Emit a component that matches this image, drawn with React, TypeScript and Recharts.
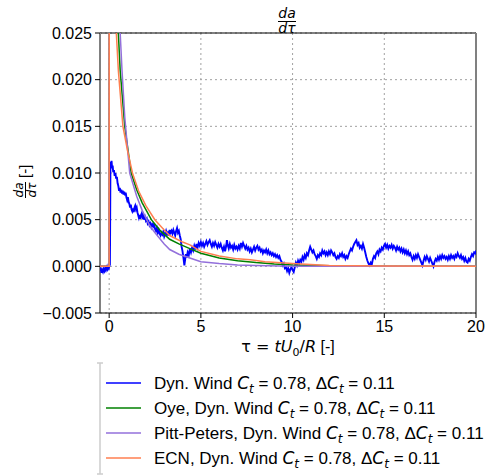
import React from 'react';
import { LineChart, Line, XAxis, YAxis, CartesianGrid, ReferenceLine } from 'recharts';

const xTicks = [0, 5, 10, 15, 20];
const yTicks = [-0.005, 0, 0.005, 0.01, 0.015, 0.02, 0.025];

// measured dynamic-wind signal [tau, da/dtau]
const dynWind: [number, number][] = [
  [-0.5, -0.0005], [-0.46, -0.0003], [-0.42, -0.0007], [-0.38, -0.0004], [-0.34, -0.0006], [-0.3, -0.0003],
  [-0.26, -0.0005], [-0.22, -0.0002], [-0.18, -0.0004], [-0.14, -0.0001], [-0.1, -0.0003], [-0.06, 0.0],
  [-0.02, -0.0002], [0.02, 0.0001], [0.04, 0.0002], [0.05, 0.0032], [0.07, 0.0112], [0.1, 0.0107],
  [0.13, 0.0113], [0.16, 0.0105], [0.19, 0.0108], [0.22, 0.0101], [0.26, 0.0103], [0.3, 0.0097],
  [0.34, 0.01], [0.38, 0.0094], [0.42, 0.0096], [0.46, 0.0089], [0.5, 0.0086], [0.54, 0.0081],
  [0.58, 0.0084], [0.62, 0.0079], [0.66, 0.0082], [0.7, 0.0078], [0.74, 0.0081], [0.78, 0.0077],
  [0.82, 0.008], [0.86, 0.0076], [0.9, 0.0079], [0.94, 0.0074], [0.98, 0.0071], [1.02, 0.0074],
  [1.06, 0.0069], [1.1, 0.0067], [1.14, 0.0063], [1.18, 0.0066], [1.22, 0.0061], [1.26, 0.0059],
  [1.3, 0.0062], [1.34, 0.0058], [1.38, 0.0063], [1.42, 0.0065], [1.46, 0.0061], [1.5, 0.0063],
  [1.54, 0.0058], [1.58, 0.0055], [1.62, 0.0052], [1.66, 0.0055], [1.7, 0.0051], [1.74, 0.0055],
  [1.78, 0.0057], [1.82, 0.0053], [1.86, 0.0055], [1.9, 0.005], [1.95, 0.0053], [2.0, 0.0049],
  [2.05, 0.0051], [2.1, 0.0046], [2.15, 0.0048], [2.2, 0.0044], [2.25, 0.0046], [2.3, 0.0042],
  [2.35, 0.0045], [2.4, 0.0043], [2.45, 0.0046], [2.5, 0.004], [2.55, 0.0038], [2.6, 0.0041],
  [2.65, 0.0036], [2.7, 0.0039], [2.75, 0.0035], [2.8, 0.0033], [2.85, 0.0036], [2.9, 0.0034],
  [2.95, 0.0037], [3.0, 0.0032], [3.05, 0.0035], [3.1, 0.0038], [3.15, 0.0034], [3.2, 0.0036],
  [3.25, 0.0033], [3.3, 0.0039], [3.35, 0.0036], [3.4, 0.0038], [3.45, 0.0035], [3.5, 0.0039],
  [3.55, 0.0036], [3.6, 0.0033], [3.65, 0.0038], [3.7, 0.0041], [3.75, 0.0036], [3.8, 0.0038],
  [3.85, 0.0033], [3.9, 0.0029], [3.95, 0.0021], [4.0, 0.0016], [4.05, 0.0009], [4.1, 0.0001],
  [4.14, 0.0007], [4.18, 0.0013], [4.22, 0.0009], [4.28, 0.0015], [4.34, 0.0012], [4.4, 0.0019],
  [4.46, 0.0015], [4.52, 0.002], [4.58, 0.0017], [4.64, 0.0022], [4.7, 0.0018], [4.76, 0.0024],
  [4.82, 0.002], [4.88, 0.0025], [4.94, 0.0022], [5.0, 0.0026], [5.06, 0.0022], [5.12, 0.0025],
  [5.18, 0.0021], [5.24, 0.0024], [5.3, 0.0027], [5.36, 0.0023], [5.42, 0.0026], [5.48, 0.0028],
  [5.54, 0.0024], [5.6, 0.0021], [5.66, 0.0025], [5.72, 0.0022], [5.78, 0.0026], [5.84, 0.0023],
  [5.9, 0.002], [5.96, 0.0024], [6.02, 0.0021], [6.08, 0.0024], [6.14, 0.002], [6.2, 0.0017],
  [6.26, 0.0021], [6.32, 0.0016], [6.38, 0.0022], [6.42, 0.0028], [6.46, 0.0023], [6.52, 0.0019],
  [6.58, 0.0024], [6.64, 0.002], [6.7, 0.0022], [6.76, 0.0018], [6.82, 0.0023], [6.88, 0.0019],
  [6.94, 0.0021], [7.0, 0.0018], [7.06, 0.0022], [7.12, 0.0019], [7.18, 0.0025], [7.24, 0.0021],
  [7.3, 0.0025], [7.36, 0.0022], [7.42, 0.0019], [7.48, 0.0022], [7.54, 0.0018], [7.6, 0.002],
  [7.66, 0.0016], [7.72, 0.0019], [7.78, 0.0015], [7.84, 0.0018], [7.9, 0.0021], [7.96, 0.0017],
  [8.02, 0.002], [8.08, 0.0022], [8.14, 0.0018], [8.2, 0.002], [8.26, 0.0016], [8.32, 0.0018],
  [8.38, 0.0014], [8.44, 0.0017], [8.5, 0.0015], [8.56, 0.0018], [8.62, 0.0014], [8.68, 0.0017],
  [8.74, 0.0013], [8.8, 0.0015], [8.86, 0.0012], [8.92, 0.0014], [8.98, 0.0011], [9.04, 0.0013],
  [9.1, 0.001], [9.16, 0.0012], [9.22, 0.0009], [9.28, 0.0011], [9.34, 0.0007], [9.4, 0.0005],
  [9.46, 0.0001], [9.52, 0.0003], [9.58, -0.0002], [9.64, -0.0001], [9.7, -0.0005], [9.76, -0.0002],
  [9.82, -0.0007], [9.88, -0.0003], [9.94, -0.0001], [10.0, -0.0004], [10.06, -0.0006], [10.12, -0.0001],
  [10.18, 0.0004], [10.24, 0.0001], [10.3, 0.0006], [10.36, 0.0003], [10.42, 0.0007], [10.48, 0.0005],
  [10.54, 0.001], [10.6, 0.0007], [10.66, 0.0012], [10.72, 0.0009], [10.78, 0.0014], [10.84, 0.0012],
  [10.9, 0.0017], [10.96, 0.0021], [11.02, 0.0018], [11.08, 0.0015], [11.14, 0.0017], [11.2, 0.0013],
  [11.26, 0.0011], [11.32, 0.0008], [11.38, 0.0012], [11.44, 0.001], [11.5, 0.0014], [11.56, 0.0012],
  [11.62, 0.0017], [11.68, 0.0014], [11.74, 0.0016], [11.8, 0.0012], [11.86, 0.0015], [11.92, 0.0012],
  [11.98, 0.0016], [12.04, 0.0013], [12.1, 0.0017], [12.16, 0.0015], [12.22, 0.0012], [12.28, 0.0014],
  [12.34, 0.001], [12.4, 0.0008], [12.46, 0.0011], [12.52, 0.0009], [12.58, 0.0013], [12.64, 0.0011],
  [12.7, 0.0014], [12.76, 0.001], [12.82, 0.0012], [12.88, 0.0008], [12.94, 0.0011], [13.0, 0.0009],
  [13.06, 0.0013], [13.12, 0.0016], [13.18, 0.0019], [13.24, 0.0017], [13.3, 0.0021], [13.36, 0.0024],
  [13.42, 0.0026], [13.48, 0.0028], [13.54, 0.0023], [13.6, 0.0025], [13.66, 0.002], [13.72, 0.0022],
  [13.78, 0.0019], [13.84, 0.0024], [13.9, 0.002], [13.96, 0.0015], [14.02, 0.001], [14.08, 0.0006],
  [14.14, 0.0003], [14.2, 0.0001], [14.26, 0.0004], [14.32, 0.0002], [14.38, 0.0008], [14.44, 0.0011],
  [14.5, 0.0009], [14.56, 0.0014], [14.62, 0.0016], [14.68, 0.0013], [14.74, 0.0018], [14.8, 0.0016],
  [14.86, 0.002], [14.92, 0.0018], [14.98, 0.0022], [15.04, 0.0024], [15.1, 0.002], [15.16, 0.0023],
  [15.22, 0.0019], [15.28, 0.0022], [15.34, 0.002], [15.4, 0.0023], [15.46, 0.0019], [15.52, 0.0022],
  [15.58, 0.002], [15.64, 0.0017], [15.7, 0.0021], [15.76, 0.0018], [15.82, 0.002], [15.88, 0.0016],
  [15.94, 0.0019], [16.0, 0.0015], [16.06, 0.0018], [16.12, 0.0014], [16.18, 0.0017], [16.24, 0.0013],
  [16.3, 0.0016], [16.36, 0.0012], [16.42, 0.0014], [16.48, 0.001], [16.54, 0.0007], [16.6, 0.0011],
  [16.66, 0.0008], [16.72, 0.0012], [16.78, 0.0009], [16.84, 0.0013], [16.9, 0.001], [16.96, 0.0007],
  [17.02, 0.0004], [17.08, 0.0001], [17.14, 0.0006], [17.2, 0.001], [17.26, 0.0007], [17.32, 0.0011],
  [17.38, 0.0008], [17.44, 0.0005], [17.5, 0.0009], [17.56, 0.0006], [17.62, 0.0003], [17.68, 0.0],
  [17.74, 0.0005], [17.8, 0.0008], [17.86, 0.0006], [17.92, 0.001], [17.98, 0.0007], [18.04, 0.0011],
  [18.1, 0.0008], [18.16, 0.0012], [18.22, 0.0009], [18.28, 0.0011], [18.34, 0.0008], [18.4, 0.001],
  [18.46, 0.0007], [18.52, 0.0011], [18.58, 0.0008], [18.64, 0.0012], [18.7, 0.0009], [18.76, 0.0011],
  [18.82, 0.0008], [18.88, 0.0012], [18.94, 0.001], [19.0, 0.0014], [19.06, 0.0011], [19.12, 0.0009],
  [19.18, 0.0012], [19.24, 0.0008], [19.3, 0.001], [19.36, 0.0006], [19.42, 0.0009], [19.48, 0.0005],
  [19.54, 0.0004], [19.6, 0.0008], [19.66, 0.0006], [19.72, 0.001], [19.78, 0.0013], [19.84, 0.0011],
  [19.9, 0.0015], [19.96, 0.0014], [20.0, 0.0017],
];

// engineering models
const oye: [number, number][] = [
  [-0.5, 0], [0, 0], [0.01, 0.08], [0.2, 0.036], [0.5, 0.025], [0.6, 0.021], [0.85, 0.015],
  [1.2, 0.01], [1.5, 0.0082], [1.8, 0.0068], [2.3, 0.005], [2.8, 0.0038], [3.3, 0.0029],
  [3.8, 0.0024], [4.4, 0.0019], [5.0, 0.0014], [6, 0.0009], [7, 0.0006], [8, 0.0004],
  [9, 0.00025], [10, 0.00015], [12, 0.00006], [15, 0.00002], [20, 0],
];
const pittPeters: [number, number][] = [
  [-0.5, 0], [0, 0], [0.01, 0.09], [0.3, 0.036], [0.6, 0.025], [0.7, 0.021], [0.85, 0.016],
  [1.12, 0.01], [1.5, 0.0075], [1.8, 0.006], [2.0, 0.0052], [2.2, 0.0044], [2.5, 0.0036],
  [3.0, 0.0024], [3.3, 0.0018], [3.8, 0.0013], [4.4, 0.0009], [5.0, 0.0005], [6, 0.0003],
  [7, 0.00015], [8, 0.00008], [10, 0.00002], [12, 0], [20, 0],
];
const ecn: [number, number][] = [
  [-0.5, 0], [0, 0], [0.01, 0.07], [0.2, 0.032], [0.39, 0.025], [0.5, 0.021], [0.75, 0.015],
  [1.0, 0.0124], [1.27, 0.01], [1.6, 0.0081], [2.0, 0.0065], [2.49, 0.005], [3.0, 0.0039],
  [3.3, 0.0033], [4.0, 0.0026], [4.4, 0.0023], [5.0, 0.0016], [6, 0.0011], [7, 0.0008],
  [7.7, 0.0007], [8.5, 0.0005], [10, 0.0003], [12, 0.0001], [15, 0.00003], [20, 0],
];

const series = [
  { name: 'Dyn. Wind ', color: '#0000ff', pts: dynWind, w: 1.9 },
  { name: 'Oye, Dyn. Wind ', color: '#008000', pts: oye, w: 1.5 },
  { name: 'Pitt-Peters, Dyn. Wind ', color: '#9370db', pts: pittPeters, w: 1.5 },
  { name: 'ECN, Dyn. Wind ', color: '#ff7f50', pts: ecn, w: 1.5 },
];

const sans = "'Liberation Sans', Arial, sans-serif";
const math = "'DejaVu Sans', sans-serif";

function Ct() {
  return (
    <>
      <tspan fontFamily={math} fontStyle="italic">C</tspan>
      <tspan fontFamily={math} fontStyle="italic" fontSize={12} dy={4}>t</tspan>
    </>
  );
}

export default function App() {
  return (
    <div style={{ position: 'fixed', left: 0, top: 0, width: 487, height: 476, background: '#fff' }}>
      <LineChart width={487} height={476} margin={{ top: 33, right: 11, left: 0, bottom: 133 }}>
        <CartesianGrid strokeDasharray="2 3" stroke="#a0a0a0" />
        <XAxis
          type="number"
          dataKey="t"
          domain={[-0.5, 20]}
          ticks={xTicks}
          interval={0}
          allowDataOverflow
          height={30}
          tickSize={5}
          tickMargin={3}
          axisLine={{ stroke: '#000' }}
          tickLine={{ stroke: '#000' }}
          tick={{ fill: '#000', fontSize: 16, fontFamily: sans }}
        />
        <YAxis
          type="number"
          domain={[-0.005, 0.025]}
          ticks={yTicks}
          interval={0}
          allowDataOverflow
          width={100}
          tickSize={5}
          tickMargin={3}
          axisLine={false}
          tickLine={{ stroke: '#000' }}
          tick={{ fill: '#000', fontSize: 16, fontFamily: sans }}
          tickFormatter={(v: number) => v.toFixed(3).replace('-', '\u2212')}
        />
        <ReferenceLine y={0.025} stroke="#000" strokeWidth={1} />
        <ReferenceLine x={-0.5} stroke="#808080" strokeWidth={2} />
        <ReferenceLine x={20} stroke="#808080" strokeWidth={2} />
        {series.map((s) => (
          <Line
            key={s.name}
            data={s.pts.map(([t, v]) => ({ t, v }))}
            dataKey="v"
            type="linear"
            stroke={s.color}
            strokeWidth={s.w}
            dot={false}
            activeDot={false}
            isAnimationActive={false}
          />
        ))}
      </LineChart>
      <svg width={487} height={476} style={{ position: 'absolute', left: 0, top: 0, pointerEvents: 'none' }}>
        {/* title */}
        <g fontFamily={math} fontStyle="italic" fontSize={14} textAnchor="middle">
          <text x={287} y={18}>da</text>
          <line x1={278} x2={296} y1={21.5} y2={21.5} stroke="#000" strokeWidth={1} />
          <text x={287} y={33}>dτ</text>
        </g>
        {/* x label */}
        <text x={288} y={352} fontSize={16} fontFamily={sans} textAnchor="middle">
          <tspan fontFamily={math}>τ</tspan>
          <tspan fontFamily={math}> = </tspan>
          <tspan fontFamily={math} fontStyle="italic">tU</tspan>
          <tspan fontFamily={math} fontSize={11} dy={4}>0</tspan>
          <tspan fontFamily={math} dy={-4}>/</tspan>
          <tspan fontFamily={math} fontStyle="italic">R</tspan>
          <tspan> [-]</tspan>
        </text>
        {/* y label */}
        <g transform="translate(25,180) rotate(-90)">
          <g fontFamily={math} fontStyle="italic" fontSize={12} textAnchor="middle">
            <text x={-10} y={-2}>da</text>
            <line x1={-18} x2={-2} y1={0.5} y2={0.5} stroke="#000" strokeWidth={1} />
            <text x={-10} y={11}>dτ</text>
          </g>
          <text x={2} y={5} fontSize={15} fontFamily={sans}>[-]</text>
        </g>
        {/* legend */}
        <g stroke="#cccccc" strokeWidth={1.5} fill="none">
          <line x1={100} x2={100} y1={363} y2={474} />
          <line x1={97} x2={103} y1={363} y2={363} />
          <line x1={97} x2={103} y1={474} y2={474} />
        </g>
        {series.map((s, i) => {
          const cy = 383 + i * 25;
          return (
            <g key={s.name}>
              <line x1={106} x2={141} y1={cy} y2={cy} stroke={s.color} strokeWidth={1.5} />
              <text x={154} y={cy + 6} fontSize={17} fontFamily={sans}>
                {s.name}
                <Ct />
                <tspan dy={-4}>{' = 0.78, Δ'}</tspan>
                <Ct />
                <tspan dy={-4}>{' = 0.11'}</tspan>
              </text>
            </g>
          );
        })}
      </svg>
    </div>
  );
}
